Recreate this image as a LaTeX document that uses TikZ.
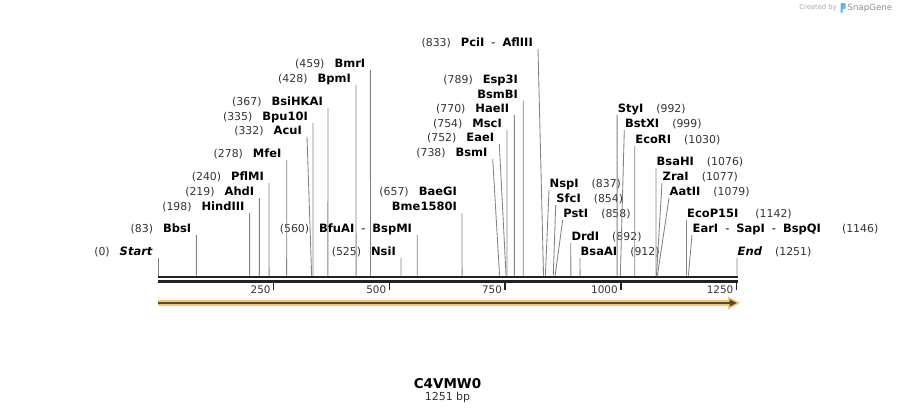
\documentclass[tikz,border=0pt]{standalone}
\usepackage{fontspec}
\setmainfont{DejaVu Sans}
\definecolor{cutgray}{HTML}{828282}
\definecolor{numgray}{HTML}{333333}
\definecolor{bbcol}{HTML}{222222}
\definecolor{featorange}{HTML}{F8C56F}
\definecolor{featdark}{HTML}{564838}
\definecolor{logoblue}{HTML}{5CB8EE}
\definecolor{wmgray}{HTML}{A8A8A8}
\newcommand{\sitepos}[1]{{\fontsize{10.9}{15}\selectfont\color{numgray}(#1)}}
\newcommand{\enz}[1]{\textbf{#1}}
\newcommand{\lgap}{\hspace{10pt}}
\newcommand{\rgap}{\hspace{13pt}}
\newcommand{\dsep}{\hspace{7pt}-\hspace{7pt}}
\tikzset{
  cut/.style={draw=cutgray, line width=0.85pt},
  lsite/.style={anchor=south east, inner xsep=5pt, inner ysep=2.5pt, text depth=0pt, align=right},
  rsite/.style={anchor=south west, inner xsep=0.5pt, inner ysep=2.5pt, text depth=0pt, align=left},
  tick/.style={draw=bbcol, line width=1.4pt},
  ticklbl/.style={anchor=east, inner xsep=2.5pt, font=\fontsize{10.4}{12}\selectfont, text=numgray}
}
\begin{document}
\begin{tikzpicture}[x=1pt, y=-1pt, font=\fontsize{11.5}{15}\selectfont]
\useasboundingbox (0,0) rectangle (897,415);
\foreach \n/\p in {start/0, bbs/83, hind/198, ahd/219, pfl/240, mfe/278, acu/332, bpu/335,
    bsihk/367, bpm/428, bmr/459, nsi/525, bfu/560, bae/657, bsm/738, eae/752, msc/754,
    hae/770, esp/789, pci/833, nsp/837, sfc/854, pst/858, drd/892, bsaa/912, sty/992,
    bstx/999, eco/1030, bsah/1076, zra/1077, aat/1079, ecop/1142, ear/1146, end/1251}
  \coordinate (\n-b) at ({158+\p*0.46283},275.6);

\node[lsite] (start) at (158,258) {\sitepos{0}\lgap\textbf{\itshape Start}};
\node[lsite] (bbs) at (196.4,235) {\sitepos{83}\lgap\enz{BbsI}};
\node[lsite] (hind) at (249.6,213) {\sitepos{198}\lgap\enz{HindIII}};
\node[lsite] (ahd) at (259.4,198) {\sitepos{219}\lgap\enz{AhdI}};
\node[lsite] (pfl) at (269,183) {\sitepos{240}\lgap\enz{PflMI}};
\node[lsite] (mfe) at (286.7,160) {\sitepos{278}\lgap\enz{MfeI}};
\node[lsite] (acu) at (307,137) {\sitepos{332}\lgap\enz{AcuI}};
\node[lsite] (bpu) at (313,123) {\sitepos{335}\lgap\enz{Bpu10I}};
\node[lsite] (bsihk) at (328,108) {\sitepos{367}\lgap\enz{BsiHKAI}};
\node[lsite] (bpm) at (356,85) {\sitepos{428}\lgap\enz{BpmI}};
\node[lsite] (bmr) at (370.4,70) {\sitepos{459}\lgap\enz{BmrI}};
\node[lsite] (nsi) at (401,258) {\sitepos{525}\lgap\enz{NsiI}};
\node[lsite] (bfu) at (417.2,235) {\sitepos{560}\lgap\enz{BfuAI}\dsep\enz{BspMI}};
\node[lsite] (bae) at (462,213) {\sitepos{657}\lgap\enz{BaeGI}\\\enz{Bme1580I}};
\node[lsite] (bsm) at (492.7,159) {\sitepos{738}\lgap\enz{BsmI}};
\node[lsite] (eae) at (499.3,144) {\sitepos{752}\lgap\enz{EaeI}};
\node[lsite] (msc) at (507,130) {\sitepos{754}\lgap\enz{MscI}};
\node[lsite] (hae) at (514.4,115) {\sitepos{770}\lgap\enz{HaeII}};
\node[lsite] (esp) at (523.2,100.7) {\sitepos{789}\lgap\enz{Esp3I}\\\enz{BsmBI}};
\node[lsite] (pci) at (538,49) {\sitepos{833}\lgap\enz{PciI}\dsep\enz{AflIII}};

\node[rsite] (nsp) at (549,190) {\enz{NspI}\rgap\sitepos{837}};
\node[rsite] (sfc) at (555.7,205) {\enz{SfcI}\rgap\sitepos{854}};
\node[rsite] (pst) at (562.7,220) {\enz{PstI}\rgap\sitepos{858}};
\node[rsite] (drd) at (570.8,243) {\enz{DrdI}\rgap\sitepos{892}};
\node[rsite] (bsaa) at (580,258) {\enz{BsaAI}\rgap\sitepos{912}};
\node[rsite] (sty) at (617.1,115) {\enz{StyI}\rgap\sitepos{992}};
\node[rsite] (bstx) at (624.3,130) {\enz{BstXI}\rgap\sitepos{999}};
\node[rsite] (eco) at (634.7,146) {\enz{EcoRI}\rgap\sitepos{1030}};
\node[rsite] (bsah) at (656,168) {\enz{BsaHI}\rgap\sitepos{1076}};
\node[rsite] (zra) at (662,183) {\enz{ZraI}\rgap\sitepos{1077}};
\node[rsite] (aat) at (669,198) {\enz{AatII}\rgap\sitepos{1079}};
\node[rsite] (ecop) at (686.5,220) {\enz{EcoP15I}\hspace{17pt}\sitepos{1142}};
\node[rsite] (ear) at (692,235) {\enz{EarI}\dsep\enz{SapI}\dsep\enz{BspQI}\hspace{21pt}\sitepos{1146}};
\node[rsite] (end) at (737,258) {\textbf{\itshape End}\rgap\sitepos{1251}};

\foreach \n in {start, bbs, hind, ahd, pfl, mfe, acu, bpu, bsihk, bpm, bmr, nsi, bfu, bae,
    bsm, eae, msc, hae, esp, pci}
  \draw[cut] (\n.south east) -- (\n-b);
\foreach \n in {nsp, sfc, pst, drd, bsaa, sty, bstx, eco, bsah, zra, aat, ecop, ear, end}
  \draw[cut] (\n.south west) -- (\n-b);

\draw[draw=bbcol, line width=2.6pt] (158,277) -- (737.5,277);
\draw[draw=bbcol, line width=2.6pt] (158,281.4) -- (737.5,281.4);
\foreach \t in {250,500,750,1000,1250}
  \draw[tick] ({158+\t*0.46283},281) -- ++(0,8.6) node[ticklbl] {\t};

\fill[featorange] (158,300) rectangle (731,306);
\fill[featorange] (728,296.5) -- (740,303) -- (728,309.5) -- cycle;
\draw[featdark, line width=1.8pt] (158,303) -- (731,303);
\fill[featdark] (729.5,299.3) -- (736.8,303) -- (729.5,306.7) -- cycle;

\node[font=\fontsize{13.5}{15}\selectfont\bfseries] (seqname) at (447.5,384) {C4VMW0};
\node[font=\fontsize{11}{13}\selectfont, text=numgray] (seqlen) at (447.5,397.5) {1251 bp};

\node[anchor=east, inner sep=0pt, font=\fontsize{6.8}{8}\selectfont, text=wmgray] (wm) at (837,8) {Created by};
\fill[logoblue, rounded corners=0.8pt] (840.5,3) -- (845.5,3) -- (845.5,9) -- (842.6,9) -- (842.6,13) -- (840.5,13) -- cycle;
\node[anchor=west, inner sep=0pt, font=\fontsize{8.6}{10}\selectfont, text=wmgray!85!black] (sg) at (847.5,8) {SnapGene};
\end{tikzpicture}
\end{document}
